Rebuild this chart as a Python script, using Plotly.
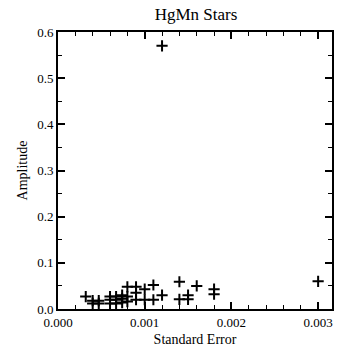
import plotly.graph_objects as go

# HgMn stars: standard error vs amplitude
std_error = [0.00032,
             0.00040, 0.00040,
             0.00047, 0.00047,
             0.00060, 0.00060, 0.00060,
             0.00067, 0.00067, 0.00067,
             0.00074, 0.00074, 0.00074,
             0.00080, 0.00080, 0.00080,
             0.00090, 0.00090, 0.00090,
             0.00100, 0.00100,
             0.00110, 0.00110,
             0.00120, 0.00120,
             0.00140, 0.00140,
             0.00150, 0.00150,
             0.00160,
             0.00180, 0.00180,
             0.00300]
amplitude = [0.027,
             0.018, 0.012,
             0.018, 0.012,
             0.027, 0.020, 0.012,
             0.027, 0.020, 0.012,
             0.030, 0.022, 0.014,
             0.048, 0.027, 0.016,
             0.048, 0.035, 0.020,
             0.043, 0.020,
             0.052, 0.020,
             0.030, 0.570,
             0.059, 0.021,
             0.030, 0.021,
             0.050,
             0.043, 0.032,
             0.060]

serif = 'Liberation Serif, Times New Roman, serif'

fig = go.Figure()
fig.add_trace(go.Scatter(
    x = std_error,
    y = amplitude,
    mode = 'markers',
    marker = dict(symbol = 'cross-thin', size = 8, color = 'black',
                  line = dict(color = 'black', width = 2)),
    showlegend = False
))

fig.update_layout(
    width = 338,
    height = 354,
    margin = dict(l = 58, r = 4, t = 32, b = 45),
    plot_bgcolor = 'white',
    paper_bgcolor = 'white',
    font = dict(family = serif, color = 'black', size = 13),
    title = dict(text = 'HgMn Stars', x = 0.58, xanchor = 'center',
                 y = 0.96, yanchor = 'middle', font = dict(size = 17)),
)

fig.update_xaxes(
    range = [0, 0.00316],
    tickvals = [0, 0.001, 0.002, 0.003],
    ticktext = ['0.000', '0.001', '0.002', '0.003'],
    ticks = 'inside', ticklen = 7, tickwidth = 1.5, tickcolor = 'black',
    minor = dict(dtick = 0.0002, tick0 = 0, ticks = 'inside', ticklen = 4,
                 tickcolor = 'black', tickwidth = 1),
    showline = True, linecolor = 'black', linewidth = 2, mirror = 'allticks',
    showgrid = False, zeroline = False,
    title = dict(text = 'Standard Error', font = dict(size = 14), standoff = 6),
)

fig.update_yaxes(
    range = [0, 0.6],
    tickvals = [0, 0.1, 0.2, 0.3, 0.4, 0.5, 0.6],
    ticktext = ['0.0', '0.1', '0.2', '0.3', '0.4', '0.5', '0.6'],
    ticks = 'inside', ticklen = 7, tickwidth = 1.5, tickcolor = 'black',
    minor = dict(dtick = 0.05, tick0 = 0, ticks = 'inside', ticklen = 4,
                 tickcolor = 'black', tickwidth = 1),
    showline = True, linecolor = 'black', linewidth = 2, mirror = 'allticks',
    showgrid = False, zeroline = False,
    title = dict(text = 'Amplitude', font = dict(size = 14), standoff = 6),
)

fig.write_html("out.html", config = {'displayModeBar': False},
               post_script = "document.body.style.margin = '0';")
